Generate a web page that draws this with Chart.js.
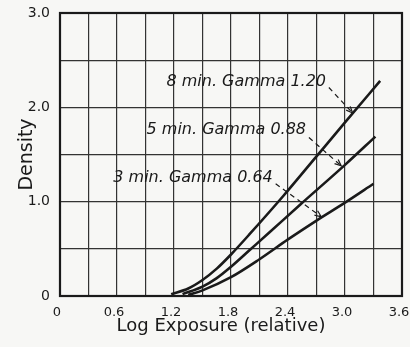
<!DOCTYPE html>
<html>
<head>
<meta charset="utf-8">
<script src="https://cdn.jsdelivr.net/npm/chart.js@4.4.1/dist/chart.umd.min.js"></script>
<style>
    html, body { margin: 0; padding: 0; background: #f7f7f5; }
    #wrap { width: 410px; height: 347px; position: relative; }
</style>
</head>
<body>
<div id="wrap"><canvas id="density-chart"></canvas></div>
<script>
/* Characteristic curves: density vs. log exposure for three development times */

// curve data read from the plate
const logE8 = [1.17, 1.35, 1.5, 1.65, 1.8, 2.0, 2.35, 2.7, 3.0, 3.37];
const dens8 = [0.02, 0.08, 0.17, 0.29, 0.44, 0.66, 1.06, 1.48, 1.84, 2.28];
const logE5 = [1.29, 1.5, 1.65, 1.8, 2.0, 2.2, 2.53, 3.0, 3.32];
const dens5 = [0.02, 0.10, 0.19, 0.31, 0.49, 0.67, 0.97, 1.39, 1.69];
const logE3 = [1.35, 1.5, 1.8, 2.1, 2.4, 2.7, 3.0, 3.3];
const dens3 = [0.01, 0.06, 0.2, 0.39, 0.60, 0.80, 0.99, 1.19];

// labels and their arrows (text end, arrow start, arrow tip), in data units
const labelText = ["8 min. Gamma 1.20", "5 min. Gamma 0.88", "3 min. Gamma 0.64"];
const labelX = [2.80, 2.59, 2.24];
const labelY = [2.27, 1.76, 1.25];
const arrowFromX = [2.83, 2.62, 2.27];
const arrowFromY = [2.21, 1.68, 1.19];
const arrowToX = [3.08, 2.96, 2.75];
const arrowToY = [1.94, 1.38, 0.84];

// axis ticks and titles
const xTickLabels = ["0", "0.6", "1.2", "1.8", "2.4", "3.0", "3.6"];
const yTickLabels = ["0", "1.0", "2.0", "3.0"];
const xTitle = "Log Exposure (relative)";
const yTitle = "Density";

(function () {
    "use strict";

    const ink = '#1a1a1a';
    const fontFamily = "'DejaVu Sans', sans-serif";

    window.addEventListener("load", init);

    function init() {
        makeChart(document.getElementById("density-chart"));
    }

    /**
     * Zips x and y arrays into chart.js points
     */
    function points(xs, ys) {
        return xs.map((x, i) => ({ x: x, y: ys[i] }));
    }

    function curve(xs, ys) {
        return {
            data: points(xs, ys),
            borderColor: ink,
            borderWidth: 2.6,
            pointRadius: 0,
            fill: false,
            cubicInterpolationMode: 'monotone'
        };
    }

    /**
     * Draws the italic labels with dashed arrows pointing at each curve
     */
    const labelPlugin = {
        id: 'gammaLabels',
        afterDatasetsDraw(chart) {
            const ctx = chart.ctx;
            const xs = chart.scales.x;
            const ys = chart.scales.y;
            ctx.save();
            ctx.fillStyle = ink;
            ctx.strokeStyle = ink;
            ctx.font = "italic 16px " + fontFamily;
            ctx.textAlign = 'right';
            ctx.textBaseline = 'middle';
            labelText.forEach((txt, i) => {
                ctx.fillText(txt, xs.getPixelForValue(labelX[i]), ys.getPixelForValue(labelY[i]));

                let x0 = xs.getPixelForValue(arrowFromX[i]);
                let y0 = ys.getPixelForValue(arrowFromY[i]);
                let x1 = xs.getPixelForValue(arrowToX[i]);
                let y1 = ys.getPixelForValue(arrowToY[i]);
                ctx.lineWidth = 1.2;
                ctx.setLineDash([5, 4]);
                ctx.beginPath();
                ctx.moveTo(x0, y0);
                ctx.lineTo(x1, y1);
                ctx.stroke();

                // arrow head
                let ang = Math.atan2(y1 - y0, x1 - x0);
                ctx.setLineDash([]);
                ctx.beginPath();
                ctx.moveTo(x1 - 7 * Math.cos(ang - 0.4), y1 - 7 * Math.sin(ang - 0.4));
                ctx.lineTo(x1, y1);
                ctx.lineTo(x1 - 7 * Math.cos(ang + 0.4), y1 - 7 * Math.sin(ang + 0.4));
                ctx.stroke();
            });
            ctx.restore();
        }
    };

    /**
     * Thick frame round the plot area, plus the x axis title
     * (drawn by hand since the original sits a little left of centre)
     */
    const framePlugin = {
        id: 'frame',
        afterDraw(chart) {
            const a = chart.chartArea;
            const ctx = chart.ctx;
            ctx.save();
            ctx.strokeStyle = ink;
            ctx.lineWidth = 2.2;
            ctx.strokeRect(a.left, a.top, a.right - a.left, a.bottom - a.top);

            ctx.fillStyle = ink;
            ctx.font = "18px " + fontFamily;
            ctx.textAlign = 'center';
            ctx.textBaseline = 'middle';
            ctx.fillText(xTitle, (a.left + a.right) / 2 - 10, a.bottom + 30);
            ctx.restore();
        }
    };

    function makeChart(elem) {
        new Chart(elem, {
            type: 'line',
            data: {
                datasets: [curve(logE8, dens8), curve(logE5, dens5), curve(logE3, dens3)]
            },
            options: {
                animation: false,
                responsive: true,
                maintainAspectRatio: false,
                layout: { padding: { top: 13, right: 0, left: 0, bottom: 0 } },
                plugins: {
                    legend: { display: false },
                    tooltip: { enabled: false }
                },
                scales: {
                    x: {
                        type: 'linear',
                        min: 0,
                        max: 3.6,
                        afterFit: s => { s.height = 51; s.paddingRight = 8; },
                        afterBuildTicks: s => {
                            s.ticks = [];
                            for (let i = 0; i <= 12; i++) s.ticks.push({ value: i * 0.3 });
                        },
                        ticks: {
                            color: ink,
                            padding: 9,
                            labelOffset: -3,
                            maxRotation: 0,
                            autoSkip: false,
                            font: { family: fontFamily, size: 13 },
                            callback: (v, i) => (i % 2 === 0 ? xTickLabels[i / 2] : '')
                        },
                        grid: { color: '#333', lineWidth: 1.2, drawTicks: false },
                        border: { display: false },
                        title: { display: false }
                    },
                    y: {
                        min: 0,
                        max: 3.0,
                        afterFit: s => { s.width = 60; s.paddingTop = 0; s.paddingBottom = 0; },
                        afterBuildTicks: s => {
                            s.ticks = [];
                            for (let i = 0; i <= 6; i++) s.ticks.push({ value: i * 0.5 });
                        },
                        ticks: {
                            color: ink,
                            padding: 10,
                            autoSkip: false,
                            font: { family: fontFamily, size: 14 },
                            callback: (v, i) => (i % 2 === 0 ? yTickLabels[i / 2] : '')
                        },
                        grid: { color: '#333', lineWidth: 1.2, drawTicks: false },
                        border: { display: false },
                        title: {
                            display: true,
                            text: yTitle,
                            color: ink,
                            padding: { top: 16, bottom: 0 },
                            font: { family: fontFamily, size: 19 }
                        }
                    }
                }
            },
            plugins: [labelPlugin, framePlugin]
        });
    }
})();
</script>
</body>
</html>
